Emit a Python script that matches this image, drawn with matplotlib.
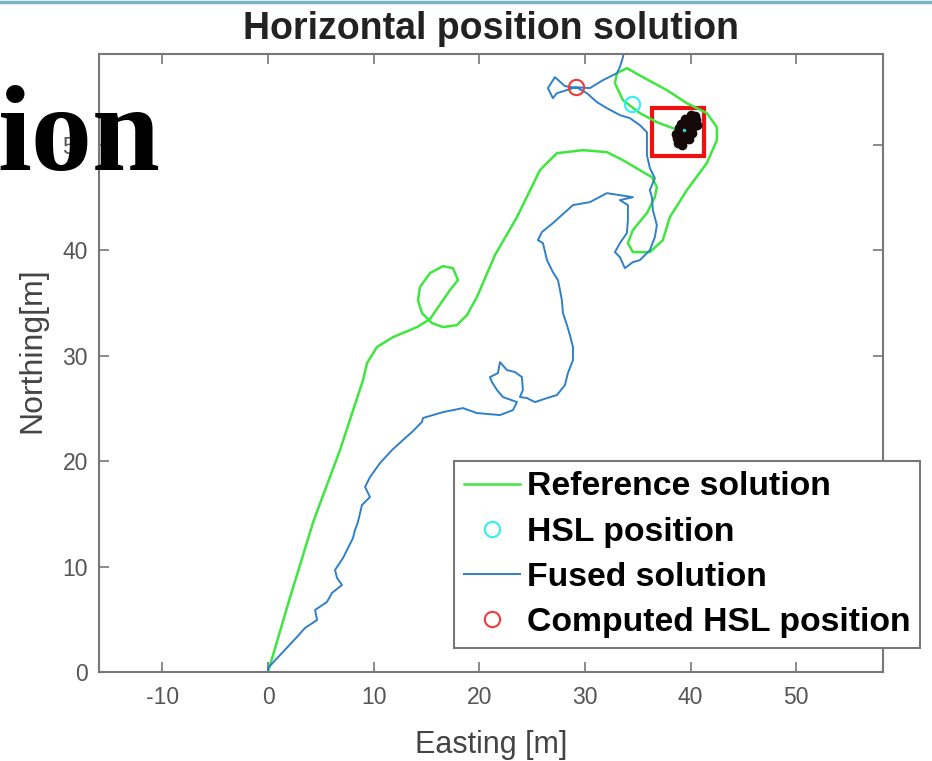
import numpy as np
import matplotlib
matplotlib.use('Agg')
import matplotlib.pyplot as plt
from matplotlib.patches import Rectangle

plt.rcParams['font.family'] = ['Liberation Sans', 'DejaVu Sans']
plt.rcParams['axes.unicode_minus'] = False

# reference (ground truth) trajectory, metres
ref_e = [0.00, 2.0, 4.3, 6.81, 8.99, 9.37, 10.31, 11.83, 14.10, 15.33,
         16.56, 17.22, 17.98, 17.50, 16.56, 15.33, 14.38, 14.19, 14.57, 15.52,
         16.56, 17.88, 18.83, 19.77, 21.48, 23.56, 25.73, 27.34, 29.80, 32.07,
         33.59, 35.19, 36.33, 36.80, 36.61, 35.86, 34.53, 34.06, 34.53, 36.14,
         37.37, 38.03, 39.64, 41.53, 42.48, 42.48, 41.53, 39.64, 37.75, 35.48,
         33.96, 33.02, 32.83, 33.59, 35.19, 36.80, 38.32, 38.98]
ref_n = [0.00, 6.8, 14.3, 21.04, 27.68, 29.29, 30.81, 31.75, 32.70, 33.46,
         35.26, 36.21, 37.16, 38.29, 38.48, 37.82, 36.49, 35.26, 34.03, 33.08,
         32.70, 32.89, 33.84, 35.55, 39.53, 43.13, 47.58, 49.19, 49.48, 49.29,
         48.53, 47.58, 46.92, 45.97, 45.02, 43.51, 41.90, 40.66, 39.81, 39.81,
         40.95, 43.13, 45.69, 48.25, 50.43, 51.66, 52.99, 53.93, 55.17, 56.40,
         57.25, 56.78, 55.83, 54.22, 52.99, 52.13, 51.56, 51.37]

# fused solution
fus_e = [0.00, 0.00, 1.32, 2.74, 3.50, 4.64, 4.45, 5.58, 6.05, 7.00,
         6.53, 6.34, 7.10, 8.04, 8.23, 8.51, 8.89, 9.65, 9.18, 9.65,
         10.60, 11.73, 12.77, 13.62, 14.57, 14.66, 16.56, 18.45, 19.77, 21.95,
         23.18, 23.56, 22.23, 21.67, 21.19, 21.00, 21.76, 21.95, 22.61, 23.37,
         24.03, 24.12, 23.84, 24.50, 25.26, 26.40, 27.34, 28.10, 28.38, 28.86,
         28.86, 28.57, 28.29, 27.91, 27.81, 27.63, 27.44, 26.96, 26.40, 26.02,
         25.54, 25.92, 26.96, 28.86, 30.46, 32.07, 33.30, 34.53, 33.30, 34.06,
         34.06, 33.96, 33.30, 32.83, 33.30, 33.77, 34.53, 35.19, 36.14, 36.61,
         36.80, 36.42, 36.33, 36.14, 36.61, 36.14, 35.86, 35.86, 35.19, 34.25,
         33.30, 32.07, 31.13, 30.18, 29.33, 28.10, 27.15, 26.49, 26.96, 27.34,
         29.14, 30.46, 31.69, 33.02, 33.30, 33.59, 33.77]
fus_n = [0.00, 0.38, 1.80, 3.32, 4.17, 4.93, 5.88, 6.64, 7.49, 8.25,
         8.91, 9.67, 10.81, 12.70, 13.46, 14.22, 15.83, 16.59, 17.54, 18.48,
         19.81, 21.04, 21.99, 22.75, 23.70, 24.08, 24.64, 25.02, 24.55, 24.36,
         24.83, 25.59, 26.07, 26.73, 27.49, 27.96, 28.34, 29.38, 28.63, 28.44,
         27.96, 26.73, 26.07, 25.97, 25.59, 25.97, 26.26, 27.20, 28.34, 29.57,
         30.81, 31.94, 32.89, 34.03, 35.26, 36.21, 37.16, 37.91, 39.05, 40.66,
         40.95, 41.71, 42.56, 44.27, 44.55, 45.40, 45.21, 45.02, 44.74, 44.27,
         42.84, 41.61, 40.66, 39.81, 39.34, 38.29, 38.86, 39.05, 40.00, 41.23,
         42.37, 43.79, 45.02, 45.69, 46.82, 47.77, 49.00, 51.18, 51.85, 52.51,
         52.80, 53.46, 54.03, 54.88, 55.36, 55.55, 56.40, 55.36, 54.41, 54.88,
         55.45, 55.36, 56.11, 56.78, 57.35, 58.29, 59.43]

# cloud of HSL estimates (black blob)
blob_e = [38.8, 39.0, 39.3, 38.9, 39.2, 39.6, 39.0, 39.4, 39.8, 39.3, 39.7, 40.1,
          39.6, 40.0, 40.3, 39.9, 40.2, 40.5, 39.5, 38.7, 40.0, 39.2, 38.6, 40.6,
          38.9, 39.5, 40.4, 39.1, 39.8, 40.1]
blob_n = [50.2, 50.5, 50.4, 50.9, 50.9, 50.8, 51.3, 51.3, 51.2, 51.7, 51.7, 51.6,
          52.1, 52.1, 52.0, 52.5, 52.4, 52.3, 52.4, 50.6, 52.8, 50.0, 51.0, 51.9,
          51.6, 51.0, 52.7, 52.0, 50.5, 51.1]

hsl_e, hsl_n = [34.44], [53.84]
comp_e, comp_n = [29.14], [55.45]
box_e = [36.33, 41.25]
box_n = [48.91, 53.46]

fig = plt.figure(figsize=(9.32, 7.61), dpi=100)
ax = fig.add_axes([0.1062, 0.1170, 0.8412, 0.8121])

ax.plot(ref_e, ref_n, color='#3fe63f', lw=1.8, label='Reference solution')
ax.plot(hsl_e, hsl_n, 'o', mfc='none', mec='#2ff0f5', ms=11, mew=1.5, label='HSL position')
ax.plot(fus_e, fus_n, color='#2f80c8', lw=1.4, label='Fused solution')
ax.plot(comp_e, comp_n, 'o', mfc='none', mec='#f03a3a', ms=11, mew=1.5, label='Computed HSL position')
ax.plot(blob_e, blob_n, '.', color='#140808', ms=12)
ax.plot([39.4], [51.4], '.', color='#2fd0e0', ms=3)
ax.add_patch(Rectangle((box_e[0], box_n[0]), box_e[1] - box_e[0], box_n[1] - box_n[0],
                       fill=False, ec='#ee1111', lw=3))

ax.set_xlim(-16, 58.2)
ax.set_ylim(0, 58.6)
ax.set_xticks(range(-10, 51, 10))
ax.set_yticks(range(0, 51, 10))
ax.tick_params(direction='in', length=7, width=1.2, colors='#777777',
               labelcolor='#555555', labelsize=16.5, top=True, right=True)
ax.tick_params(axis='x', pad=10)
ax.tick_params(axis='y', pad=8)
for s in ax.spines.values():
    s.set_color('#777777')
    s.set_linewidth(1.5)

ax.set_xlabel('Easting [m]', fontsize=22, color='#444444', labelpad=15)
ax.set_ylabel('Northing[m]', fontsize=23, color='#444444')
ax.yaxis.set_label_coords(-0.066, 0.52)
ax.set_title('Horizontal position solution', fontsize=27, fontweight='bold',
             color='#222222', pad=11)

leg = ax.legend(loc='lower left', bbox_to_anchor=(0.4528, 0.0388), borderaxespad=0,
                prop={'weight': 'bold', 'size': 24.3}, handlelength=1.65, handletextpad=0.2,
                labelspacing=0.42, borderpad=0.3, fancybox=False, framealpha=1,
                edgecolor='#777777')
leg.get_frame().set_linewidth(1.5)
leg.set_clip_on(False)

# slide overlay: cut-off heading and top border
fig.text(-3 / 932, 1 - 170 / 761, 'ion', fontsize=88, fontweight='bold',
         family=['Liberation Serif', 'DejaVu Serif'], color='black', ha='left', va='baseline')
fig.add_artist(plt.Line2D([0, 1], [0.998, 0.998], color='#78b4c8', lw=2.5))

fig.savefig('out.png', dpi=100)
